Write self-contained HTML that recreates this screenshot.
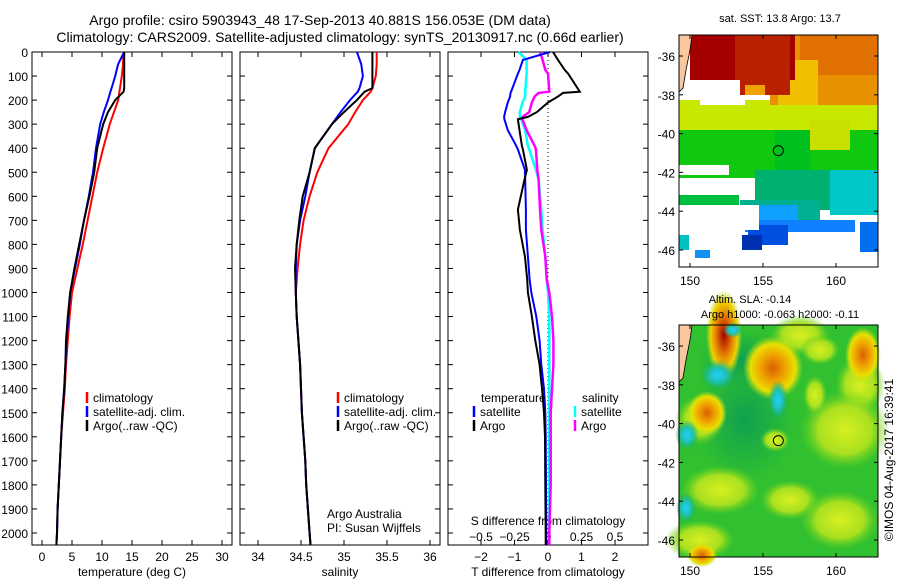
<!DOCTYPE html>
<html><head><meta charset="utf-8"><style>
body{margin:0;background:#fff}
svg{display:block;font-family:"Liberation Sans",sans-serif}
</style></head><body>
<svg id="c" width="900" height="580" xmlns="http://www.w3.org/2000/svg">
<defs>
<radialGradient id="gOr"><stop offset="0" stop-color="#d86000"/><stop offset="0.4" stop-color="#f0a000"/><stop offset="0.75" stop-color="#e8e000"/><stop offset="1" stop-color="#b8e020" stop-opacity="0"/></radialGradient>
<radialGradient id="gRd"><stop offset="0" stop-color="#a00000"/><stop offset="0.4" stop-color="#e07000"/><stop offset="0.75" stop-color="#f0d000"/><stop offset="1" stop-color="#b8e020" stop-opacity="0"/></radialGradient>
<radialGradient id="gCy"><stop offset="0" stop-color="#20d0ff"/><stop offset="0.5" stop-color="#20c0b0"/><stop offset="1" stop-color="#10b060" stop-opacity="0"/></radialGradient>
<radialGradient id="gYg"><stop offset="0" stop-color="#d8f020"/><stop offset="0.6" stop-color="#a8e020"/><stop offset="1" stop-color="#60d020" stop-opacity="0"/></radialGradient>
<radialGradient id="gDg"><stop offset="0" stop-color="#10a050"/><stop offset="1" stop-color="#10a050" stop-opacity="0"/></radialGradient>
</defs>
<g font-size="14" fill="#000">
<text x="320" y="25" text-anchor="middle">Argo profile: csiro 5903943_48 17-Sep-2013 40.881S 156.053E (DM data)</text>
<text x="340" y="42" text-anchor="middle">Climatology: CARS2009. Satellite-adjusted climatology: synTS_20130917.nc (0.66d earlier)</text>
</g>
<g id="p1"></g>
<g id="p2"></g>
<g id="p3"></g>
<g id="m1"></g>
<g id="m2"></g>
<text transform="translate(893,460) rotate(-90)" text-anchor="middle" font-size="12">©IMOS 04-Aug-2017 16:39:41</text>
</svg>
<script>
// ---- data ----
const depthTicks=[0,100,200,300,400,500,600,700,800,900,1000,1100,1200,1300,1400,1500,1600,1700,1800,1900,2000];
const tTicks=[0,5,10,15,20,25,30];
const sTicks=[34,34.5,35,35.5,36];
const dTTicks=[-2,-1,0,1,2];
const dSTicks=[-0.5,-0.25,0,0.25,0.5];
const dSTickLabels=["-0.5","-0.25","0","0.25","0.5"];
const depths=[0,50,100,150,165,200,250,300,400,500,600,700,800,900,1000,1100,1200,1300,1400,1500,1600,1700,1800,1900,2000,2050];
const tClim=[13.6,13.5,13.3,13.0,12.9,12.7,12.0,11.3,10.2,9.2,8.4,7.6,6.8,5.9,5.0,4.6,4.3,4.0,3.8,3.5,3.2,3.0,2.8,2.6,2.5,2.4];
const tSat=[13.7,12.7,12.2,11.6,11.4,11.0,10.3,9.7,9.0,8.5,7.8,7.0,6.3,5.5,4.7,4.4,4.1,3.9,3.7,3.4,3.2,3.0,2.8,2.6,2.5,2.4];
const tArgo=[13.7,13.7,13.7,13.7,13.6,12.2,11.0,10.2,9.2,8.7,7.9,7.0,6.2,5.4,4.7,4.3,4.0,3.9,3.7,3.4,3.2,3.0,2.8,2.6,2.5,2.4];
const sClim=[35.38,35.38,35.37,35.33,35.31,35.22,35.13,35.05,34.82,34.69,34.6,34.53,34.49,34.46,34.44,34.45,34.47,34.49,34.5,34.51,34.53,34.55,34.56,34.58,34.6,34.61];
const sSat=[35.15,35.2,35.22,35.18,35.16,35.07,34.96,34.86,34.66,34.6,34.55,34.49,34.45,34.44,34.44,34.45,34.47,34.49,34.5,34.51,34.53,34.55,34.56,34.58,34.6,34.61];
const sArgo=[35.33,35.33,35.33,35.33,35.24,35.15,35.0,34.86,34.66,34.6,34.52,34.48,34.45,34.43,34.44,34.45,34.47,34.49,34.5,34.51,34.53,34.55,34.56,34.58,34.6,34.61];
const dDepths=[0,33,75,90,165,170,185,210,250,270,280,325,390,405,490,530,655,740,850,945,1000,1100,1200,1300,1400,1500,1600,1800,2000,2050];
const dTArgo=[0.15,0.3,0.5,0.6,0.95,0.45,0.3,0,-0.33,-0.6,-0.9,-0.85,-0.78,-0.75,-0.63,-0.7,-0.9,-0.84,-0.69,-0.62,-0.6,-0.48,-0.38,-0.25,-0.18,-0.12,-0.09,-0.08,-0.07,-0.07];
const dTSat=[0.06,-0.75,-0.85,-0.9,-1.1,-1.12,-1.13,-1.2,-1.28,-1.31,-1.3,-1.2,-0.95,-0.9,-0.69,-0.68,-0.66,-0.66,-0.6,-0.55,-0.5,-0.35,-0.25,-0.2,-0.12,-0.08,-0.07,-0.06,-0.05,-0.05];
const dSSat=[-0.22,-0.16,-0.16,-0.16,-0.17,-0.17,-0.17,-0.19,-0.21,-0.21,-0.2,-0.17,-0.15,-0.14,-0.09,-0.07,-0.05,-0.04,-0.02,-0.01,0,0.01,0.01,0.01,0.01,0.01,0.01,0.01,0.01,0.01];
const dSArgo=[-0.06,-0.04,-0.02,0,0.01,-0.07,-0.1,-0.12,-0.14,-0.19,-0.19,-0.16,-0.1,-0.09,-0.08,-0.07,-0.06,-0.05,-0.02,-0.01,0.01,0.03,0.04,0.04,0.03,0.02,0.02,0.02,0.01,0.01];

const NS="http://www.w3.org/2000/svg";
function mk(tag,attrs,parent){const e=document.createElementNS(NS,tag);for(const k in attrs)e.setAttribute(k,attrs[k]);parent.appendChild(e);return e;}
const yD=d=>52+d*0.2405;
const plotTop=52,plotBot=545;

function frame(g,x0,x1,xs,xticks){
  const r=mk('rect',{x:x0,y:plotTop,width:x1-x0,height:plotBot-plotTop,fill:'#fff',stroke:'#000','stroke-width':1},g);
  
  
  depthTicks.forEach(d=>{
    mk('line',{x1:x0,x2:x0+5,y1:yD(d),y2:yD(d),stroke:'#000'},g);
    mk('line',{x1:x1,x2:x1-5,y1:yD(d),y2:yD(d),stroke:'#000'},g);
  });
  xticks.forEach(v=>{
    mk('line',{x1:xs(v),x2:xs(v),y1:plotTop,y2:plotTop+5,stroke:'#000'},g);
    mk('line',{x1:xs(v),x2:xs(v),y1:plotBot,y2:plotBot-5,stroke:'#000'},g);
  });
}
function line(g,xs,vals,ds,color,w,name){
  let p='';ds.forEach((d,i)=>{p+=(i?'L':'M')+xs(vals[i]).toFixed(1)+','+yD(d).toFixed(1);});
  const e=mk('path',{d:p,fill:'none',stroke:color,'stroke-width':w},g);
  
  
}
function txt(g,x,y,s,anchor,size,name){const t=mk('text',{x:x,y:y,'text-anchor':anchor||'start','font-size':size||12},g);t.textContent=s;
  
  return t;}
function legend(g,x,y,items){
  items.forEach((it,i)=>{
    mk('line',{x1:x,x2:x,y1:y+i*14-10,y2:y+i*14+1,stroke:it[1],'stroke-width':2.5},g);
    txt(g,x+6,y+i*14,it[0],'start',12,'legend-entry');
  });
}

// Panel 1
const p1=document.getElementById('p1');
const xT=v=>42+6*v;
frame(p1,32,232,xT,tTicks);
depthTicks.forEach(d=>txt(p1,28,yD(d)+5,String(d),'end',12,'depth-tick-label'));
tTicks.forEach(v=>txt(p1,xT(v),561,String(v),'middle',12,'x-tick-label'));
txt(p1,132,576,'temperature (deg C)','middle',12,'x-axis-title');
line(p1,xT,tClim,depths,'#f00',2,'temp-climatology-line');
line(p1,xT,tSat,depths,'#00f',2,'temp-satellite-line');
line(p1,xT,tArgo,depths,'#000',2,'temp-argo-line');
legend(p1,87,402,[['climatology','#f00'],['satellite-adj. clim.','#00f'],['Argo(..raw -QC)','#000']]);

// Panel 2
const p2=document.getElementById('p2');
const xS=v=>258+(v-34)*86;
frame(p2,240,440,xS,sTicks);
sTicks.forEach(v=>txt(p2,xS(v),561,String(v),'middle',12,'x-tick-label'));
txt(p2,340,576,'salinity','middle',12,'x-axis-title');
line(p2,xS,sClim,depths,'#f00',2,'sal-climatology-line');
line(p2,xS,sSat,depths,'#00f',2,'sal-satellite-line');
line(p2,xS,sArgo,depths,'#000',2,'sal-argo-line');
legend(p2,338,402,[['climatology','#f00'],['satellite-adj. clim.','#00f'],['Argo(..raw -QC)','#000']]);
txt(p2,327,518,'Argo Australia','start',12,'credit-argo-australia');
txt(p2,327,532,'PI: Susan Wijffels','start',12,'credit-pi');

// Panel 3
const p3=document.getElementById('p3');
const xDT=v=>548+33.5*v, xDS=v=>548+134*v;
frame(p3,448,648,xDT,dTTicks);
mk('line',{x1:548,x2:548,y1:plotTop,y2:plotBot,stroke:'#000','stroke-dasharray':'1,3'},p3);
dTTicks.forEach(v=>txt(p3,xDT(v),561,String(v).replace('-','\u2212'),'middle',12,'t-diff-tick-label'));
dSTicks.forEach((v,i)=>txt(p3,xDS(v),541,dSTickLabels[i].replace('-','\u2212'),'middle',12,'s-diff-tick-label'));
txt(p3,548,525,'S difference from climatology','middle',12,'s-diff-axis-title');
txt(p3,548,576,'T difference from climatology','middle',12,'t-diff-axis-title');
line(p3,xDS,dSSat,dDepths,'#0ff',2.5,'sdiff-satellite-line');
line(p3,xDS,dSArgo,dDepths,'#f0f',2.5,'sdiff-argo-line');
line(p3,xDT,dTSat,dDepths,'#00f',2,'tdiff-satellite-line');
line(p3,xDT,dTArgo,dDepths,'#000',2,'tdiff-argo-line');
txt(p3,481,402,'temperature','start',12,'legend-title-temperature');
txt(p3,582,402,'salinity','start',12,'legend-title-salinity');
legend(p3,474,416,[['satellite','#00f'],['Argo','#000']]);
legend(p3,575,416,[['satellite','#0ff'],['Argo','#f0f']]);

// Maps
const lonX=l=>690+(l-150)*14.6;
function mapAxes(g,y0,name){
  const latY=la=>y0+21+(-36-la)*19.4;
  [150,155,160].forEach(l=>{mk('line',{x1:lonX(l),x2:lonX(l),y1:y0,y2:y0+4,stroke:'#000'},g);
    mk('line',{x1:lonX(l),x2:lonX(l),y1:y0+232,y2:y0+228,stroke:'#000'},g);
    txt(g,lonX(l),y0+250,String(l),'middle',12,'lon-tick-label');});
  [-36,-38,-40,-42,-44,-46].forEach(la=>{mk('line',{x1:679,x2:683,y1:latY(la),y2:latY(la),stroke:'#000'},g);
    mk('line',{x1:878,x2:874,y1:latY(la),y2:latY(la),stroke:'#000'},g);
    txt(g,675,latY(la)+5,String(la),'end',12,'lat-tick-label');});
  const r=mk('rect',{x:679,y:y0,width:199,height:232,fill:'none',stroke:'#000'},g);
  
  
  const c=mk('circle',{cx:lonX(156.05),cy:latY(-40.88),r:5,fill:'none',stroke:'#000'},g);
  
  
}
function R(g,x,y,w,h,f){mk('rect',{x:x,y:y,width:w,height:h,fill:f},g);}
const m1=document.getElementById('m1');
const c1=mk('g',{},m1);
R(c1,679,35,199,232,'#fff');
R(c1,679,128,199,50,'#10c810');
R(c1,679,100,199,30,'#c8e800');
R(c1,770,35,108,70,'#e89000');
R(c1,800,35,78,40,'#e07000');
R(c1,778,60,40,45,'#f0c000');
R(c1,690,35,105,45,'#a50000');
R(c1,735,35,55,60,'#b82000');
R(c1,775,130,35,45,'#00c020');
R(c1,810,120,40,30,'#c8e000');
R(c1,755,170,123,40,'#00b070');
R(c1,830,170,48,45,'#00c8c8');
R(c1,740,200,80,30,'#00b090');
R(c1,738,205,60,20,'#10a0ff');
R(c1,745,220,110,12,'#1080ff');
R(c1,748,225,40,20,'#0050e0');
R(c1,719,237,10,20,'#0040d0');
R(c1,742,235,20,15,'#0030b0');
R(c1,860,222,18,30,'#0070f0');
R(c1,679,165,50,10,'#fff');R(c1,705,180,25,20,'#fff');R(c1,679,182,20,10,'#fff');
R(c1,679,195,60,10,'#00c040');R(c1,679,205,80,25,'#fff');R(c1,679,230,60,37,'#fff');
R(c1,695,250,15,15,'#1090f0');R(c1,679,235,10,15,'#00c0c0');
R(c1,720,80,20,15,'#fff');R(c1,700,95,45,10,'#fff');R(c1,745,85,20,10,'#f0a000');
R(c1,679,258,199,9,'#fff');
mk('path',{d:'M679,35 L692,35 L690,50 L686,70 L683,88 L679,92 Z',fill:'#f9c89f',stroke:'#000','stroke-width':0.8},c1);
txt(m1,780,22,'sat. SST: 13.8 Argo: 13.7','middle',11,'sst-map-title');
mapAxes(m1,35,'sst-map-frame');

const m2=document.getElementById('m2');
const c2=mk('g',{},m2);
R(c2,679,325,199,232,'#30c030');
const blobs=[['gDg',745,420,50,60],['gDg',740,360,40,30],['gYg',800,335,30,20],['gYg',820,350,20,15],['gYg',860,385,25,30],['gYg',845,430,45,40],['gYg',720,490,40,25],['gYg',790,500,30,20],['gYg',840,520,40,30],['gYg',700,540,35,20],['gYg',775,440,15,12],['gYg',815,395,12,20],['gYg',700,420,25,25],
['gRd',724,335,18,45],['gOr',773,368,30,32],['gOr',707,413,20,22],['gOr',863,355,18,28],['gOr',702,555,15,12],
['gCy',718,375,18,15],['gCy',778,400,10,20],['gCy',687,435,12,15],['gCy',686,508,10,15],['gCy',733,330,10,8]];
blobs.forEach(b=>mk('ellipse',{cx:b[1],cy:b[2],rx:b[3],ry:b[4],fill:'url(#'+b[0]+')'},c2));
mk('path',{d:'M679,325 L692,325 L690,340 L686,360 L683,378 L679,382 Z',fill:'#f9c89f',stroke:'#000','stroke-width':0.8},c2);
txt(m2,750,303,'Altim. SLA: -0.14','middle',11,'sla-map-title');
txt(m2,780,318,'Argo h1000: -0.063 h2000: -0.11','middle',11,'sla-map-subtitle');
mapAxes(m2,325,'sla-map-frame');
</script>
</body></html>
